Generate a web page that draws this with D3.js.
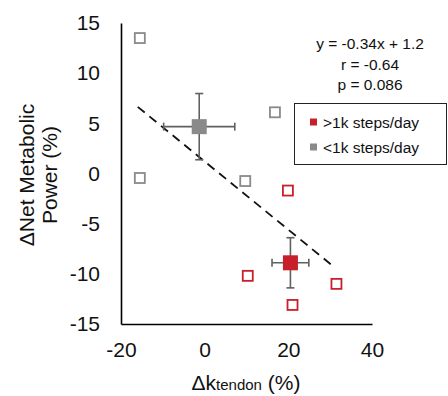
<!DOCTYPE html>
<html>
<head>
<meta charset="utf-8">
<script src="https://cdn.jsdelivr.net/npm/d3@7"></script>
<style>
  body { margin: 0; background: #fff; }
  text { font-family: "Liberation Sans", Arial, sans-serif; fill: #111; }
</style>
</head>
<body>
<svg id="chart" width="448" height="396"></svg>
<script>
// individual subjects
var grayX = [-15.5, -15.5, 16.8, 9.7];
var grayY = [13.5, -0.45, 6.1, -0.75];
var redX = [19.9, 10.3, 31.5, 21.0];
var redY = [-1.7, -10.2, -11.0, -13.1];

// group means with SD
var meanGroups = ["gray", "red"];
var meanX = [-1.3, 20.5];
var meanY = [4.67, -8.9];
var errX = [8.5, 4.4];
var errY = [3.3, 2.5];

// regression
var slope = -0.34, intercept = 1.2;
var fitRange = [-16, 31];

var xTicks = [-20, 0, 20, 40];
var yTicks = [-15, -10, -5, 0, 5, 10, 15];
var statLines = ["y = -0.34x + 1.2", "r = -0.64", "p = 0.086"];
var legendLabels = [">1k steps/day", "<1k steps/day"];

var RED = "#c8202a", GRAY = "#8a8a8a";
var colors = { red: RED, gray: GRAY };

var svg = d3.select("#chart");
var x = d3.scaleLinear().domain([-20, 40]).range([121, 372]);
var y = d3.scaleLinear().domain([-15, 15]).range([324, 23]);
var fmt = function(d) { return String(d); }; // plain hyphen minus like Excel

// axes (no tick marks, Excel style)
var xAxis = svg.append("g").attr("transform", "translate(0,324)")
    .call(d3.axisBottom(x).tickValues(xTicks).tickFormat(fmt).tickSize(0).tickPadding(18));
var yAxis = svg.append("g").attr("transform", "translate(121,0)")
    .call(d3.axisLeft(y).tickValues(yTicks).tickFormat(fmt).tickSize(0).tickPadding(21));
[xAxis, yAxis].forEach(function(a) {
  a.select(".domain").attr("stroke", "#000").attr("stroke-width", 1.6);
  a.selectAll("text").style("font-size", "21px").attr("fill", "#111")
    .style("font-family", "'Liberation Sans', Arial, sans-serif");
});

// trend line
svg.append("line")
  .attr("x1", x(fitRange[0])).attr("y1", y(slope * fitRange[0] + intercept))
  .attr("x2", x(fitRange[1])).attr("y2", y(slope * fitRange[1] + intercept))
  .attr("stroke", "#111").attr("stroke-width", 1.8)
  .attr("stroke-dasharray", "9,6");

// error bars
meanGroups.forEach(function(g, i) {
  var eb = svg.append("g").attr("stroke", "#606060").attr("stroke-width", 1.6);
  var cx = x(meanX[i]), cy = y(meanY[i]);
  var x0 = x(meanX[i] - errX[i]), x1 = x(meanX[i] + errX[i]);
  var y0 = y(meanY[i] + errY[i]), y1 = y(meanY[i] - errY[i]);
  eb.append("line").attr("x1", x0).attr("x2", x1).attr("y1", cy).attr("y2", cy);
  eb.append("line").attr("x1", cx).attr("x2", cx).attr("y1", y0).attr("y2", y1);
  [x0, x1].forEach(function(v) {
    eb.append("line").attr("x1", v).attr("x2", v).attr("y1", cy - 4).attr("y2", cy + 4);
  });
  [y0, y1].forEach(function(v) {
    eb.append("line").attr("x1", cx - 4).attr("x2", cx + 4).attr("y1", v).attr("y2", v);
  });
});

// hollow subject squares
function hollow(xs, ys, col) {
  svg.append("g").selectAll("rect").data(xs).join("rect")
    .attr("x", function(d) { return x(d) - 5; })
    .attr("y", function(d, i) { return y(ys[i]) - 5; })
    .attr("width", 10).attr("height", 10)
    .attr("fill", "#fff").attr("stroke", col).attr("stroke-width", 1.8);
}
hollow(grayX, grayY, GRAY);
hollow(redX, redY, RED);

// mean squares
svg.append("g").selectAll("rect").data(meanGroups).join("rect")
  .attr("x", function(d, i) { return x(meanX[i]) - 7.5; })
  .attr("y", function(d, i) { return y(meanY[i]) - 7.5; })
  .attr("width", 15).attr("height", 15)
  .attr("fill", function(d) { return colors[d]; });

// stats text
svg.append("g").selectAll("text").data(statLines).join("text")
  .attr("x", 370).attr("y", function(d, i) { return 49 + i * 20.5; })
  .attr("text-anchor", "middle").style("font-size", "15.5px")
  .text(function(d) { return d; });

// legend
svg.append("rect").attr("x", 294.5).attr("y", 103.5).attr("width", 152).attr("height", 61)
  .attr("fill", "#fff").attr("stroke", "#222").attr("stroke-width", 1);
var legCols = [RED, GRAY];
legendLabels.forEach(function(l, i) {
  var ly = 122 + i * 25;
  svg.append("rect").attr("x", 310).attr("y", ly - 3.5).attr("width", 7).attr("height", 7)
    .attr("fill", legCols[i]);
  svg.append("text").attr("x", 323).attr("y", ly + 6).style("font-size", "15.5px").text(l);
});

// axis titles
var yt = svg.append("text").attr("transform", "translate(0,175) rotate(-90)")
  .attr("text-anchor", "middle").style("font-size", "21px");
yt.append("tspan").attr("x", 0).attr("y", 34).text("\u0394Net Metabolic");
yt.append("tspan").attr("x", 0).attr("y", 57).text("Power (%)");

var xt = svg.append("text").attr("x", 246).attr("y", 390).attr("text-anchor", "middle")
  .style("font-size", "21px");
xt.append("tspan").text("\u0394k");
xt.append("tspan").style("font-size", "15px").text("tendon");
xt.append("tspan").text(" (%)");
</script>
</body>
</html>
